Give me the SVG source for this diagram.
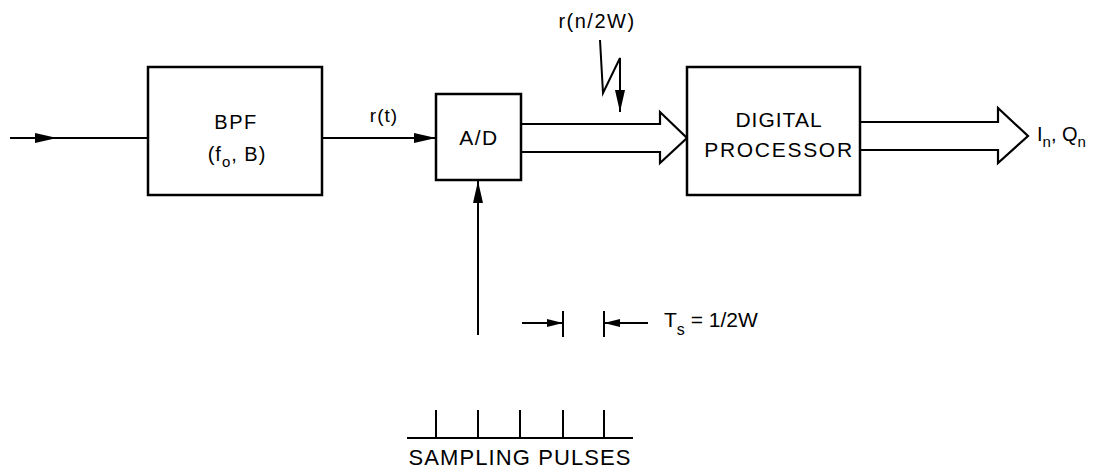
<svg xmlns="http://www.w3.org/2000/svg" width="1102" height="470" viewBox="0 0 1102 470">
<style>
.box{fill:#fff;stroke:#000;stroke-width:2.5}
.ln{fill:none;stroke:#000;stroke-width:2}
.wide{fill:#fff;stroke:#000;stroke-width:2.2;stroke-linejoin:miter}
text{font-family:"Liberation Sans",Arial,sans-serif;fill:#000}
</style>
<defs>
<marker id="ah" markerUnits="userSpaceOnUse" viewBox="0 0 22 10" refX="22" refY="5" markerWidth="22" markerHeight="10" orient="auto">
<path d="M0,0 L22,5 L0,10 Z" fill="#000"/>
</marker>
<marker id="ahs" markerUnits="userSpaceOnUse" viewBox="0 0 16 8" refX="16" refY="4" markerWidth="16" markerHeight="8" orient="auto">
<path d="M0,0 L16,4 L0,8 Z" fill="#000"/>
</marker>
</defs>

<g id="connectors">
<line class="ln" x1="10" y1="138" x2="57" y2="138" marker-end="url(#ah)"/>
<line class="ln" x1="55" y1="138" x2="148" y2="138"/>
<line class="ln" x1="322" y1="138" x2="436" y2="138" marker-end="url(#ah)"/>
<path class="wide" d="M521,124 H660 V112 L687,138 L660,163 V152 H521"/>
<path class="wide" d="M860,122 H998 V108 L1028,136 L998,163 V150 H860"/>
<polyline class="ln" points="600,40 603,93 620,58 620,92 620,112" marker-end="url(#ah)"/>
<line class="ln" x1="478" y1="335" x2="478" y2="181" marker-end="url(#ah)"/>
<line class="ln" x1="563" y1="311" x2="563" y2="337"/>
<line class="ln" x1="604" y1="311" x2="604" y2="337"/>
<line class="ln" x1="522" y1="323" x2="563" y2="323" marker-end="url(#ahs)"/>
<line class="ln" x1="648" y1="323" x2="604" y2="323" marker-end="url(#ahs)"/>
<line class="ln" x1="407" y1="438" x2="633" y2="438"/>
<line class="ln" x1="436" y1="410" x2="436" y2="438"/>
<line class="ln" x1="478" y1="410" x2="478" y2="438"/>
<line class="ln" x1="520" y1="410" x2="520" y2="438"/>
<line class="ln" x1="563" y1="410" x2="563" y2="438"/>
<line class="ln" x1="604" y1="410" x2="604" y2="438"/>
</g>

<g id="bpf">
<rect class="box" x="148" y="67" width="174" height="128"/>
<text x="236" y="129" font-size="20" text-anchor="middle" letter-spacing="1.5">BPF</text>
<text x="237" y="161" font-size="20" text-anchor="middle" letter-spacing="1">(f<tspan font-size="15" dy="6">o</tspan><tspan dy="-6">, B)</tspan></text>
</g>

<g id="ad">
<rect class="box" x="436" y="94" width="85" height="86"/>
<text x="479" y="145" font-size="21" text-anchor="middle" letter-spacing="1.5">A/D</text>
</g>

<g id="dp">
<rect class="box" x="687" y="67" width="173" height="128"/>
<text x="779" y="127" font-size="21" text-anchor="middle" letter-spacing="1">DIGITAL</text>
<text x="779" y="157" font-size="21" text-anchor="middle" letter-spacing="1.7">PROCESSOR</text>
</g>

<g id="labels">
<text x="384" y="122" font-size="19" text-anchor="middle" letter-spacing="1">r(t)</text>
<text x="597" y="28" font-size="20" text-anchor="middle" letter-spacing="1.5">r(n/2W)</text>
<text x="1037" y="141" font-size="20">I<tspan font-size="15" dy="6">n</tspan><tspan dy="-6">, Q</tspan><tspan font-size="15" dy="6">n</tspan></text>
<text x="664" y="327" font-size="21">T<tspan font-size="16" dy="8">s</tspan><tspan dy="-8"> = 1/2W</tspan></text>
<text x="520" y="465" font-size="22" text-anchor="middle" letter-spacing="1.1">SAMPLING PULSES</text>
</g>
</svg>
